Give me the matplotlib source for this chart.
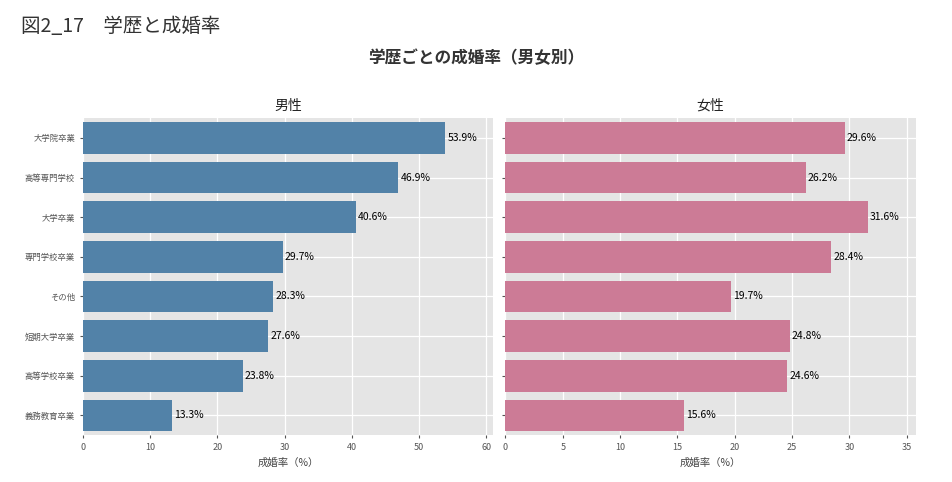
import matplotlib; matplotlib.use("Agg")
import matplotlib.pyplot as plt

plt.rcParams["font.family"] = "Noto Sans CJK JP"

categories = ["大学院卒業", "高等専門学校", "大学卒業", "専門学校卒業", "その他", "短期大学卒業", "高等学校卒業", "義務教育卒業"]
male = [53.9, 46.9, 40.6, 29.7, 28.3, 27.6, 23.8, 13.3]
female = [29.6, 26.2, 31.6, 28.4, 19.7, 24.8, 24.6, 15.6]
male_ticks = [0, 10, 20, 30, 40, 50, 60]
female_ticks = [0, 5, 10, 15, 20, 25, 30, 35]

fig, axes = plt.subplots(1, 2, figsize=(9.52, 4.82), dpi=100, sharey=True)
fig.subplots_adjust(left=0.087, right=0.962, top=0.755, bottom=0.097, wspace=0.03)
fig.text(0.022, 0.945, "図2_17　学歴と成婚率", fontsize=14, color="#333333", va="center")
fig.text(0.5, 0.88, "学歴ごとの成婚率（男女別）", fontsize=12, fontweight="bold", ha="center", va="center", color="#333333")

ypos = list(range(len(categories)))
for ax, vals, color, title, ticks, xmax in [
        (axes[0], male, "#5282a8", "男性", male_ticks, 61),
        (axes[1], female, "#cc7b96", "女性", female_ticks, 35.8)]:
    ax.set_facecolor("#e5e5e5")
    ax.grid(True, color="white", lw=0.9)
    ax.set_axisbelow(True)
    for s in ax.spines.values():
        s.set_visible(False)
    ax.barh(ypos, vals, height=0.8, color=color)
    for y, v in zip(ypos, vals):
        ax.text(v + xmax * 0.005, y, f"{v}%", va="center", fontsize=7.5, color="black")
    ax.set_xlim(0, xmax)
    ax.set_xticks(ticks)
    ax.set_ylim(len(categories) - 0.5, -0.5)
    ax.set_title(title, fontsize=10, color="#222222", pad=6)
    ax.set_xlabel("成婚率（%）", fontsize=7.5, color="#444444")
    ax.tick_params(labelsize=6.5, colors="#555555", length=2)

axes[0].set_yticks(ypos)
axes[0].set_yticklabels(categories, fontsize=6)
fig.savefig("out.png", dpi=100)
